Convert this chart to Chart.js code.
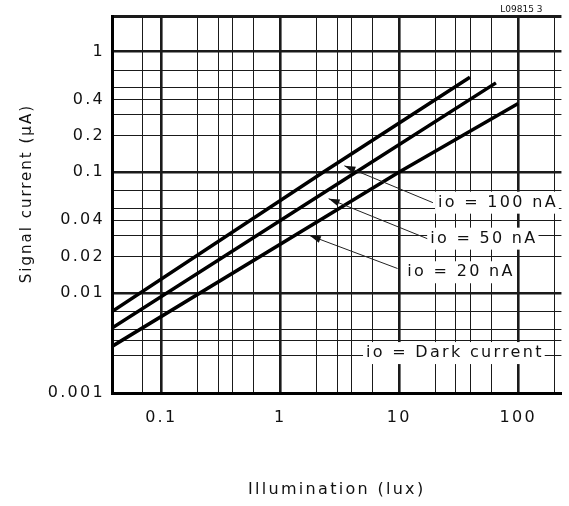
<!DOCTYPE html>
<html>
<head>
<meta charset="utf-8">
<script src="https://cdn.jsdelivr.net/npm/chart.js@4/dist/chart.umd.min.js"></script>
<style>
html, body { margin: 0; padding: 0; background: #fff; }
</style>
</head>
<body>
<canvas id="chart" width="569" height="506"></canvas>
<script>
// curves (lux, µA)
const luxAt100 = [0.0385, 2.31, 39.3];
const currentAt100 = [0.0070, 0.1, 0.61];
const luxAt50 = [0.0385, 4.35, 65];
const currentAt50 = [0.0051, 0.1, 0.548];
const luxAt20 = [0.0385, 10, 100];
const currentAt20 = [0.0036, 0.1, 0.37];
const seriesNames = ['io = 100 nA', 'io = 50 nA', 'io = 20 nA'];

// axes
const xMin = 0.0385, xMax = 231;
const yMin = 0.00148, yMax = 1.94;
const xGrid = [0.07, 0.1, 0.2, 0.3, 0.4, 0.6, 1, 2, 3, 4, 6, 10, 20, 30, 40, 60, 100, 200];
const xLabelled = [0.1, 1, 10, 100];
const xLabels = ['0.1', '1', '10', '100'];
const yGrid = [yMin, 0.003, 0.004, 0.005, 0.007, 0.01, 0.02, 0.03, 0.04, 0.05, 0.07, 0.1, 0.2, 0.3, 0.4, 0.5, 0.7, 1, yMax];
const yLabelled = [yMin, 0.01, 0.02, 0.04, 0.1, 0.2, 0.4, 1];
const yLabels = ['0.001', '0.01', '0.02', '0.04', '0.1', '0.2', '0.4', '1'];
const xDecades = [0.1, 1, 10, 100];
const yDecades = [0.01, 0.1, 1];
const yTitle = 'Signal current (µA)';

// callouts, placed in data units
const notes = [
    { text: 'io = 100 nA', lux: 21.2, current: 0.0558, fromLux: 19.2, fromCurrent: 0.0558, tipLux: 3.46, tipCurrent: 0.1126 },
    { text: 'io = 50 nA', lux: 18.2, current: 0.0281, fromLux: 17.2, fromCurrent: 0.0281, tipLux: 2.55, tipCurrent: 0.0602 },
    { text: 'io = 20 nA', lux: 11.7, current: 0.0148, fromLux: 9.68, fromCurrent: 0.0159, tipLux: 1.77, tipCurrent: 0.0298 },
    { text: 'io = Dark current', lux: 5.26, current: 0.00317 }
];
const figureCode = 'L09815 3';

const FONT = "'DejaVu Sans', sans-serif";

function points(xs, ys) {
    return xs.map((x, i) => ({ x: x, y: ys[i] }));
}

const notesPlugin = {
    id: 'notes',
    beforeDraw(chart) {
        chart.ctx.letterSpacing = '2.3px';
    },
    afterDatasetsDraw(chart) {
        const ctx = chart.ctx;
        const xs = chart.scales.x, ys = chart.scales.y;
        const area = chart.chartArea;
        ctx.save();
        ctx.font = '16px ' + FONT;
        ctx.letterSpacing = '2.3px';
        ctx.textBaseline = 'middle';
        ctx.textAlign = 'left';
        notes.forEach(n => {
            const tx = xs.getPixelForValue(n.lux);
            const ty = ys.getPixelForValue(n.current);
            const w = ctx.measureText(n.text).width;
            ctx.fillStyle = '#fff';
            ctx.fillRect(tx - 3, ty - 11, w + 4, 22);
            ctx.fillStyle = '#111';
            ctx.fillText(n.text, tx, ty);
            if (n.tipLux) {
                const fx = xs.getPixelForValue(n.fromLux), fy = ys.getPixelForValue(n.fromCurrent);
                const px = xs.getPixelForValue(n.tipLux), py = ys.getPixelForValue(n.tipCurrent);
                ctx.strokeStyle = '#222';
                ctx.lineWidth = 1;
                ctx.beginPath();
                ctx.moveTo(fx, fy);
                ctx.lineTo(px, py);
                ctx.stroke();
                const a = Math.atan2(py - fy, px - fx);
                ctx.beginPath();
                ctx.moveTo(px, py);
                ctx.lineTo(px - 11 * Math.cos(a) + 3.5 * Math.sin(a), py - 11 * Math.sin(a) - 3.5 * Math.cos(a));
                ctx.lineTo(px - 11 * Math.cos(a) - 3.5 * Math.sin(a), py - 11 * Math.sin(a) + 3.5 * Math.cos(a));
                ctx.closePath();
                ctx.fill();
            }
        });
        // y axis title, sits a little above the middle of the plot
        ctx.save();
        ctx.font = '15px ' + FONT;
        ctx.letterSpacing = '2px';
        ctx.textAlign = 'center';
        ctx.translate(27, area.top + 177);
        ctx.rotate(-Math.PI / 2);
        ctx.fillText(yTitle, 0, 0);
        ctx.restore();
        // figure code, top right
        ctx.font = '9px ' + FONT;
        ctx.letterSpacing = '0px';
        ctx.textAlign = 'right';
        ctx.textBaseline = 'bottom';
        ctx.fillText(figureCode, area.right - 19, area.top - 2);
        ctx.restore();
    }
};

window.addEventListener('DOMContentLoaded', () => {
    var ctx = document.getElementById('chart').getContext('2d');
    var series = [points(luxAt100, currentAt100), points(luxAt50, currentAt50), points(luxAt20, currentAt20)];
    var chart = new Chart(ctx, {
        type: 'line',
        data: {
            datasets: series.map((d, i) => ({
                label: seriesNames[i],
                data: d,
                borderColor: '#000',
                borderWidth: 3.5,
                pointRadius: 0,
                fill: false,
                tension: 0
            }))
        },
        options: {
            responsive: false,
            animation: false,
            layout: { padding: { top: 15, right: 0, bottom: 0, left: 0 } },
            plugins: {
                legend: { display: false },
                tooltip: { enabled: false }
            },
            scales: {
                x: {
                    type: 'logarithmic',
                    min: xMin,
                    max: xMax,
                    afterBuildTicks: s => { s.ticks = xGrid.map(v => ({ value: v })); },
                    afterFit: s => { s.height = 113; },
                    ticks: {
                        autoSkip: false,
                        maxRotation: 0,
                        padding: 15,
                        color: '#111',
                        font: { family: FONT, size: 16 },
                        callback: v => { const i = xLabelled.indexOf(v); return i >= 0 ? xLabels[i] : ''; }
                    },
                    grid: {
                        drawTicks: false,
                        color: '#1a1a1a',
                        lineWidth: c => (c.tick && xDecades.includes(c.tick.value)) ? 2.6 : 1
                    },
                    border: { display: true, color: '#000', width: 3 },
                    title: {
                        display: true,
                        text: 'Illumination (lux)',
                        color: '#111',
                        font: { family: FONT, size: 16 },
                        padding: { top: 0, bottom: 7 }
                    }
                },
                y: {
                    type: 'logarithmic',
                    min: yMin,
                    max: yMax,
                    afterBuildTicks: s => { s.ticks = yGrid.map(v => ({ value: v })); },
                    afterFit: s => { s.width = 112; },
                    ticks: {
                        autoSkip: false,
                        padding: 7,
                        color: '#111',
                        font: { family: FONT, size: 16 },
                        callback: v => { const i = yLabelled.indexOf(v); return i >= 0 ? yLabels[i] : ''; }
                    },
                    grid: {
                        drawTicks: false,
                        color: '#1a1a1a',
                        lineWidth: c => {
                            if (!c.tick) return 1;
                            if (c.tick.value === yMax) return 3;
                            return yDecades.includes(c.tick.value) ? 2.6 : 1;
                        }
                    },
                    border: { display: true, color: '#000', width: 3 }
                }
            }
        },
        plugins: [notesPlugin]
    });
})
</script>
</body>
</html>
